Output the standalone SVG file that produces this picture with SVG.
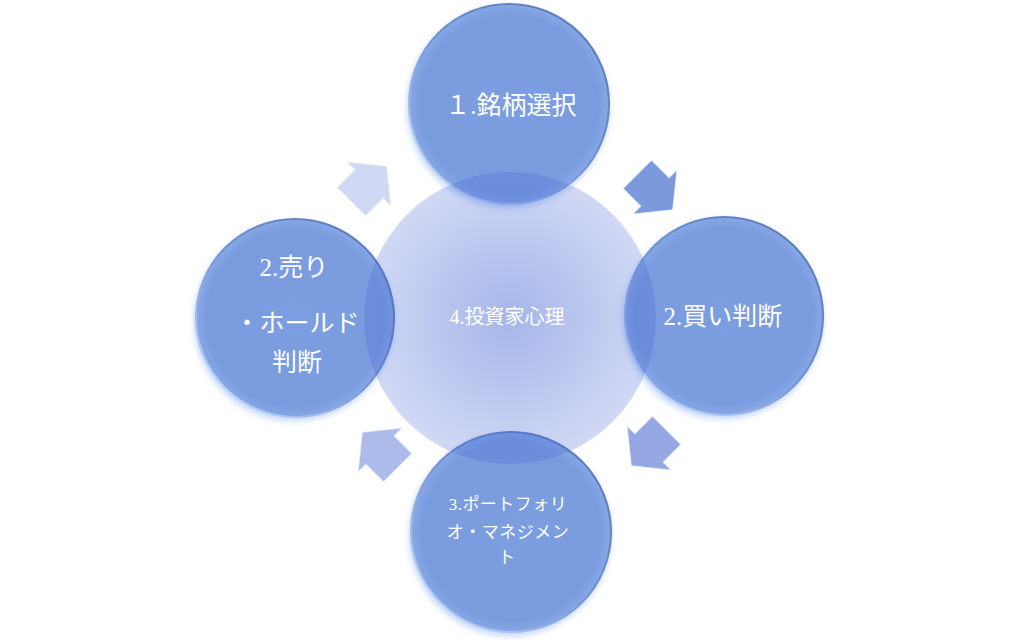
<svg xmlns="http://www.w3.org/2000/svg" width="1020" height="642" viewBox="0 0 1020 642">
  <defs>
    <style>
      .node-circle { fill: url(#nodeFill); stroke: url(#rimGrad); stroke-width: 2.2; filter: url(#glow); }
      .lbl { font-family: "Liberation Serif", "Noto Sans CJK JP", serif; fill: #ffffff; text-anchor: middle; }
      .big { font-size: 25px; }
      .mid { font-size: 20px; }
      .small { font-size: 17px; letter-spacing: 0.5px; }
      .arrow { stroke: #eef2fc; stroke-width: 1; stroke-opacity: 0.7; stroke-linejoin: miter; }
    </style>
    <radialGradient id="nodeFill" cx="0.5" cy="0.5" r="0.5">
      <stop offset="0" stop-color="#7b9de0"/>
      <stop offset="0.9" stop-color="#7a9cdf"/>
      <stop offset="1" stop-color="#88a8e6"/>
    </radialGradient>
    <linearGradient id="rimGrad" x1="0.85" y1="0.1" x2="0.15" y2="0.9">
      <stop offset="0" stop-color="#5f7cbb"/>
      <stop offset="0.5" stop-color="#7393d6"/>
      <stop offset="1" stop-color="#bcd4fa"/>
    </linearGradient>
    <radialGradient id="centerFill" cx="0.5" cy="0.5" r="0.5">
      <stop offset="0" stop-color="#3d5fd0" stop-opacity="0.46"/>
      <stop offset="0.6" stop-color="#3d5fd0" stop-opacity="0.33"/>
      <stop offset="1" stop-color="#3d5fd0" stop-opacity="0.24"/>
    </radialGradient>
    <filter id="glow" x="-20%" y="-20%" width="140%" height="140%">
      <feGaussianBlur in="SourceAlpha" stdDeviation="3" result="b"/>
      <feOffset in="b" dx="-1" dy="3" result="o"/>
      <feFlood flood-color="#b5cdf7" flood-opacity="0.8"/>
      <feComposite operator="in" in2="o" result="g"/>
      <feMerge>
        <feMergeNode in="g"/>
        <feMergeNode in="SourceGraphic"/>
      </feMerge>
    </filter>
    <path id="blockArrow" d="M -25,-20 H 0 V -31 L 25,0 L 0,31 V 20 H -25 Z"/>
  </defs>

  <rect width="1020" height="642" fill="#ffffff"/>

  <g id="connectors">
    <use href="#blockArrow" class="arrow" fill="#7b99dd" transform="translate(655,192) rotate(45)"/>
    <use href="#blockArrow" class="arrow" fill="#95a8e3" transform="translate(649,448) rotate(135)"/>
    <use href="#blockArrow" class="arrow" fill="#adbbea" transform="translate(380,450) rotate(225)"/>
    <use href="#blockArrow" class="arrow" fill="#d0d8f3" transform="translate(369,184) rotate(-45)"/>
  </g>

  <g id="node-1">
    <circle class="node-circle" cx="509" cy="104" r="100"/>
  </g>
  <g id="node-2-buy">
    <circle class="node-circle" cx="724" cy="316" r="99"/>
  </g>
  <g id="node-3">
    <circle class="node-circle" cx="511" cy="532" r="100"/>
  </g>
  <g id="node-2-sell">
    <circle class="node-circle" cx="295" cy="318" r="99"/>
  </g>

  <g id="node-4-center">
    <circle cx="510" cy="318" r="146" fill="url(#centerFill)"/>
    <text class="lbl mid" x="507" y="324">4.投資家心理</text>
  </g>

  <g id="labels">
    <text class="lbl big" x="511" y="114">１.銘柄選択</text>
    <text class="lbl big" x="723" y="325">2.買い判断</text>
    <text class="lbl big" x="294" y="276">2.売り</text>
    <text class="lbl big" x="297" y="332">・ホールド</text>
    <text class="lbl big" x="297" y="371">判断</text>
    <text class="lbl small" x="508" y="510">3.ポートフォリ</text>
    <text class="lbl small" x="508" y="538">オ・マネジメン</text>
    <text class="lbl small" x="507" y="563">ト</text>
  </g>
</svg>
